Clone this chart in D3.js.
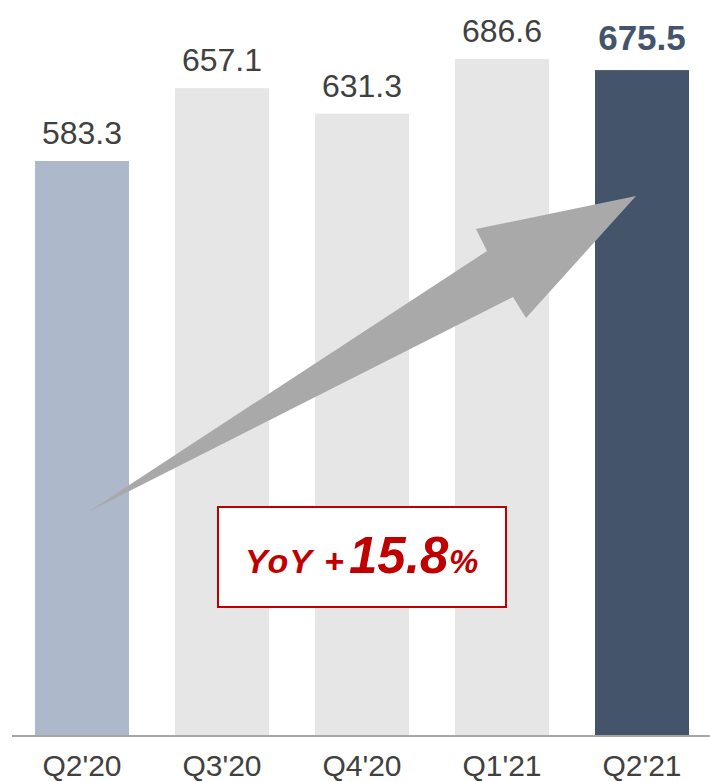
<!DOCTYPE html>
<html><head><meta charset="utf-8">
<script src="https://cdn.jsdelivr.net/npm/d3@7"></script>
<style>
html,body{margin:0;padding:0;background:#fff;}
svg{display:block;font-family:"Liberation Sans",Arial,sans-serif;}
</style></head>
<body>
<svg id="chart" width="710" height="782"></svg>
<script>
const categories = ["Q2'20","Q3'20","Q4'20","Q1'21","Q2'21"];
const values = [583.3, 657.1, 631.3, 686.6, 675.5];
const valueLabels = ["583.3","657.1","631.3","686.6","675.5"];
const barColors = ["#adb9ca","#e6e6e6","#e6e6e6","#e6e6e6","#44546a"];
const yoyParts = ["YoY", "+", "15.8", "%"];

const svg = d3.select("#chart");
const x = d3.scaleBand().domain(categories).range([12, 712]).paddingInner(0.32857).paddingOuter(0.16429);
const y = d3.scaleLinear().domain([0, 746.6]).range([736, 0]);

svg.selectAll("rect.bar").data(values).join("rect")
  .attr("class","bar")
  .attr("x",(d,i)=>x(categories[i]))
  .attr("width",x.bandwidth())
  .attr("y",d=>y(d))
  .attr("height",d=>y(0)-y(d))
  .attr("fill",(d,i)=>barColors[i]);

// axis
const axis = svg.append("g").attr("transform",`translate(0,${y(0)})`)
  .call(d3.axisBottom(x).tickSize(0).tickPadding(0));
axis.select(".domain").attr("d","M12,0H710").attr("stroke","#a6a6a6").attr("stroke-width",2);
axis.selectAll(".tick text").attr("dy",null).attr("y",40)
  .attr("font-size",30).attr("fill","#404040").attr("font-family","Liberation Sans, Arial, sans-serif");

// value labels
const last = values.length-1;
svg.selectAll("text.val").data(values).join("text")
  .attr("class","val")
  .attr("x",(d,i)=>x(categories[i])+x.bandwidth()/2)
  .attr("y",(d,i)=>y(d)-(i===last?20:17))
  .attr("text-anchor","middle")
  .attr("font-size",(d,i)=>i===last?35:32)
  .attr("font-weight",(d,i)=>i===last?"bold":"normal")
  .attr("fill",(d,i)=>i===last?"#44546a":"#404040")
  .text((d,i)=>valueLabels[i]);

// arrow (annotation shape)
const arrowPts = [[88,512],[487,251],[476,229],[636,196],[526,318],[513,297]];
svg.append("path").attr("d", d3.line()(arrowPts)+"Z").attr("fill","#a9a9a9");

// YoY box
svg.append("rect").attr("x",218).attr("y",507).attr("width",288).attr("height",100)
  .attr("fill","#fff").attr("stroke","#c00000").attr("stroke-width",2);
const t = svg.append("text").attr("y",573)
  .attr("fill","#c00000").attr("font-weight","bold").attr("font-style","italic");
t.append("tspan").attr("x",245).attr("font-size",34).attr("letter-spacing",1).text(yoyParts[0]);
t.append("tspan").attr("x",324).attr("font-size",34).text(yoyParts[1]);
t.append("tspan").attr("x",349).attr("font-size",51).text(yoyParts[2]);
t.append("tspan").attr("x",449).attr("font-size",33).text(yoyParts[3]);
</script>
</body></html>
